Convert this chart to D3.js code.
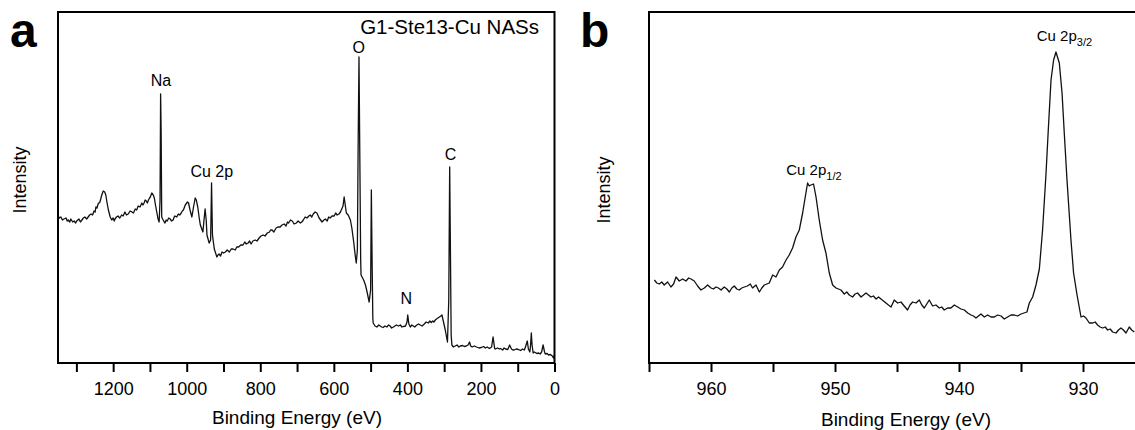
<!DOCTYPE html>
<html><head><meta charset="utf-8">
<script src="https://cdn.jsdelivr.net/npm/d3@7"></script>
<style>
body{margin:0;background:#fff;}
text{font-family:"Liberation Sans",Arial,Helvetica,sans-serif;fill:#000;}
</style>
</head><body>
<svg id="chart" width="1135" height="430"></svg>
<script>
// ---- Panel a: survey spectrum, [binding energy (eV), intensity (a.u.)] ----
const surveySpectrum = [[1350,147],[1346,145],[1342,146],[1338,143],[1334,144],[1328,145],[1325,142],[1322,143],[1318,141],[1315,144],[1310,141],[1306,142],[1302,140],[1299,142],[1296,143],[1293,144],[1289,141],[1285,143],[1281,145],[1277,146],[1272,144],[1268,146],[1264,148],[1260,149],[1256,148],[1252,152],[1249,151],[1247,156],[1244,155],[1241,159],[1236,161],[1231,168],[1227,172],[1223,171],[1220,168],[1217,161],[1213,153],[1208,146],[1204,143],[1200,145],[1197,142],[1195,144],[1191,146],[1187,147],[1182,145],[1177,148],[1173,147],[1168,151],[1164,148],[1159,149],[1154,152],[1149,151],[1145,150],[1140,154],[1136,153],[1132,157],[1127,156],[1122,160],[1119,158],[1116,160],[1113,163],[1110,162],[1107,160],[1104,163],[1101,165],[1099,166],[1095,170],[1091,168],[1088,165],[1085,158],[1081,150],[1078,144],[1075,141],[1072.5,163],[1071,269],[1069.5,230],[1068,146],[1064,143],[1061,141],[1059,140],[1056,143],[1053,142],[1049,145],[1045,144],[1041,142],[1037,143],[1034,146],[1032,147],[1027,146],[1023,149],[1019,148],[1015,150],[1012,152],[1009,153],[1004,158],[998,161],[995,160],[991,153],[986,146],[982,155],[977,165],[974,163],[970,156],[966,145],[963,138],[956,131],[953,143],[950,154],[947,143],[945,128],[939,120],[935,123],[932.5,180],[930,128],[925,114],[918,106],[915,108],[912,109],[908,107],[904,111],[900,110],[895,111],[890,113],[884,111],[879,114],[874,114],[868,113],[864,116],[859,116],[853,118],[847,118],[842,121],[838,119],[833,120],[829,122],[825,119],[820,122],[814,123],[809,122],[803,125],[798,127],[792,128],[787,127],[781,130],[775,131],[772,133],[768,133],[763,131],[757,135],[752,136],[746,136],[741,138],[735,139],[730,137],[726,141],[723,140],[718,143],[713,142],[708,139],[702,140],[697,142],[691,140],[687,141],[683,143],[678,146],[673,145],[668,147],[664,148],[660,146],[656,149],[651,151],[646,150],[640,145],[636,143],[632,141],[627,143],[623,144],[618,142],[614,146],[610,145],[605,147],[599,147],[595,150],[591,148],[586,149],[582,151],[575,157],[572,166],[569,158],[566,150],[561,148],[555,143],[551,135],[546,121],[542,108],[539,100],[536,113],[534,213],[531.6,306],[529.5,213],[527,103],[526,88],[519,83],[514,78],[509,70],[504,61],[500,73],[498,173],[496,103],[494,45],[493,40],[488,37],[483,36],[478,38],[474,37],[470,36],[466,35.5],[461,37],[456,36],[451,38],[447,37],[443,35],[438,36],[434,37],[430,38],[424,37],[419,38],[415,36],[411,36.5],[405,37],[401,41],[399,48],[396,39],[392,36],[388,38],[384,37],[380,36],[376,37.5],[370,39],[365,38],[360,37],[354,39],[349,41],[343,40],[339,42],[335,40.5],[331,42],[328,41],[324,43],[321,44],[317,45],[313,46],[309,47],[306,48],[303,43],[297,33],[291,21],[287.5,63],[285,196],[283,113],[281,28],[279,18],[275,16],[270,17],[265,18],[260,16],[256,17],[250,17.5],[245,16.5],[240,17],[235,18],[231,21],[228,17],[224,16],[218,17],[212,16],[205,15],[199,15.5],[193,16.5],[188,15],[183,16],[177,14.5],[171,16],[167,26],[163,15],[161,14],[155,15],[150,14],[147,14.5],[141,13],[137,15],[133,14],[127,13.5],[122,18],[117,14],[113,13],[110,13],[104,14],[98,13.5],[92,12.5],[87,14],[82,13],[79,16],[74,22],[71,14],[67,11],[65,18],[63,30],[61,18],[58,10],[55,11],[52,10.5],[48,9.5],[43,10],[39,9],[35,11],[31,18],[27,11],[25,9],[20,9.5],[16,8],[11,8.5],[6,7],[3,5],[0,8]];
const surveyTicks = [1300,1200,1100,1000,900,800,700,600,500,400,300,200,100,0];
const surveyTickLabels = [1200,1000,800,600,400,200,0];
const surveyPeakNames = ["Na","Cu 2p","O","N","C"];
const surveyPeakEnergy = [1070,932,532,403,283];
const surveyPeakLabelIntensity = [277,186,310,59,203];
const surveyTitle = "G1-Ste13-Cu NASs";

// ---- Panel b: Cu 2p high-resolution spectrum ----
const cuEnergy = [964.57,964.37,964.17,963.97,963.77,963.5,963.23,963.02,962.82,962.56,962.29,962.02,961.8,961.61,961.35,961.08,960.81,960.54,960.27,960.0,959.8,959.6,959.4,959.19,958.93,958.72,958.52,958.32,958.12,957.92,957.72,957.52,957.31,957.07,956.83,956.65,956.37,956.1,955.9,955.7,955.5,955.3,955.03,954.76,954.49,954.23,953.95,953.69,953.42,953.15,952.88,952.61,952.4,952.21,952.08,951.94,951.73,951.53,951.27,951.0,950.73,950.46,950.19,949.92,949.72,949.52,949.25,949.05,948.85,948.58,948.38,948.18,947.9,947.7,947.5,947.3,947.1,946.9,946.69,946.49,946.29,946.09,945.89,945.69,945.48,945.22,944.95,944.68,944.42,944.15,943.95,943.74,943.47,943.2,943.0,942.8,942.6,942.4,942.13,941.86,941.59,941.39,941.19,940.92,940.65,940.38,940.11,939.84,939.57,939.3,939.03,938.83,938.63,938.43,938.23,937.96,937.69,937.42,937.15,936.88,936.61,936.35,936.08,935.81,935.54,935.27,935.0,934.76,934.52,934.33,934.06,933.79,933.52,933.26,932.98,932.8,932.58,932.37,932.18,931.91,931.69,931.51,931.29,930.97,930.76,930.48,930.16,929.96,929.76,929.49,929.22,929.02,928.82,928.62,928.41,928.21,928.01,927.81,927.61,927.34,927.14,926.94,926.74,926.53,926.27,926.07,925.86];
const cuIntensity = [83,80,79,81,78,81,76,79,86,82,84,82,85,84,82,77,73,75,78,75,74,76,75,73,76,74,71,75,77,74,73,75,76,77,79,75,78,71,75,78,79,80,88,86,93,96,103,108,115,126,133,150,166,180,177,178,179,166,143,123,110,90,78,75,74,73,69,71,68,66,69,70,66,68,70,68,66,67,64,66,64,62,60,58,56,63,60,61,57,53,58,61,60,63,58,55,59,63,57,58,55,56,53,55,55,58,56,54,53,50,48,47,45,47,49,46,48,46,46,48,47,44,46,48,48,47,49,50,51,60,66,78,94,133,190,233,283,303,311,300,270,230,183,123,90,68,46,47,45,40,40,41,38,36,35,36,33,34,31,30,33,35,33,30,36,33,31];
const cuTicks = [965,960,955,950,945,940,935,930,925];
const cuTickLabels = [960,950,940,930];
const cuPeakMain = ["Cu 2p","Cu 2p"];
const cuPeakSub = ["1/2","3/2"];
const cuPeakEnergy = [951.7,931.5];
const cuPeakLabelIntensity = [188,322];

const xTitle = "Binding Energy (eV)";
const yTitle = "Intensity";

const svg = d3.select("#chart");

function drawPanel(o) {
  const x = d3.scaleLinear().domain(o.xDomain).range([o.left, o.right]);
  const y = d3.scaleLinear().domain([0, 351]).range([363, 12]);
  const g = svg.append("g");

  g.append("path")
    .datum(o.points)
    .attr("fill", "none")
    .attr("stroke", "#111")
    .attr("stroke-width", 1.3)
    .attr("stroke-linejoin", "round")
    .attr("d", d3.line().x(d => x(d[0])).y(d => y(d[1])));

  g.append("rect")
    .attr("x", o.left).attr("y", 12)
    .attr("width", o.right - o.left).attr("height", 351)
    .attr("fill", "none").attr("stroke", "#000").attr("stroke-width", 2);

  const ax = g.append("g").attr("transform", "translate(0,363)")
    .call(d3.axisBottom(x).tickValues(o.ticks).tickSize(9).tickPadding(10)
      .tickFormat(d => o.tickLabels.includes(d) ? String(d) : ""));
  ax.select(".domain").remove();
  ax.selectAll(".tick line").attr("stroke", "#000").attr("stroke-width", 2);
  ax.selectAll(".tick text").attr("font-size", 18)
    .attr("font-family", "Liberation Sans, Arial, sans-serif").attr("fill", "#000");

  g.append("text").attr("x", o.xTitleX).attr("y", o.xTitleY)
    .attr("text-anchor", "middle").attr("font-size", 19).text(xTitle);
  g.append("text")
    .attr("transform", `translate(${o.yTitleX},${o.yTitleY}) rotate(-90)`)
    .attr("text-anchor", "middle").attr("font-size", 18).text(yTitle);

  g.append("text").attr("x", o.letterX).attr("y", 47)
    .attr("font-size", 48).attr("font-weight", "bold").text(o.letter);
  return {x, y, g};
}

// Panel a
const A = drawPanel({
  xDomain: [1350, 0], left: 58, right: 554.5,
  points: surveySpectrum,
  ticks: surveyTicks, tickLabels: surveyTickLabels,
  xTitleX: 297, xTitleY: 424, yTitleX: 25.5, yTitleY: 180,
  letter: "a", letterX: 10
});
surveyPeakNames.forEach((n, i) => {
  A.g.append("text")
    .attr("x", A.x(surveyPeakEnergy[i])).attr("y", A.y(surveyPeakLabelIntensity[i]))
    .attr("text-anchor", "middle").attr("font-size", 16).text(n);
});
A.g.append("text").attr("x", 539).attr("y", 33.5)
  .attr("text-anchor", "end").attr("font-size", 20.5).text(surveyTitle);

// Panel b
const B = drawPanel({
  xDomain: [965, 925], left: 649, right: 649 + 40 * 12.4,
  points: cuEnergy.map((e, i) => [e, cuIntensity[i]]),
  ticks: cuTicks, tickLabels: cuTickLabels,
  xTitleX: 906, xTitleY: 426, yTitleX: 610, yTitleY: 190,
  letter: "b", letterX: 580
});
cuPeakMain.forEach((n, i) => {
  const t = B.g.append("text")
    .attr("x", B.x(cuPeakEnergy[i])).attr("y", B.y(cuPeakLabelIntensity[i]))
    .attr("text-anchor", "middle").attr("font-size", 15);
  t.append("tspan").text(n);
  t.append("tspan").attr("font-size", 11).attr("dy", 5).text(cuPeakSub[i]);
});
</script>
</body></html>
